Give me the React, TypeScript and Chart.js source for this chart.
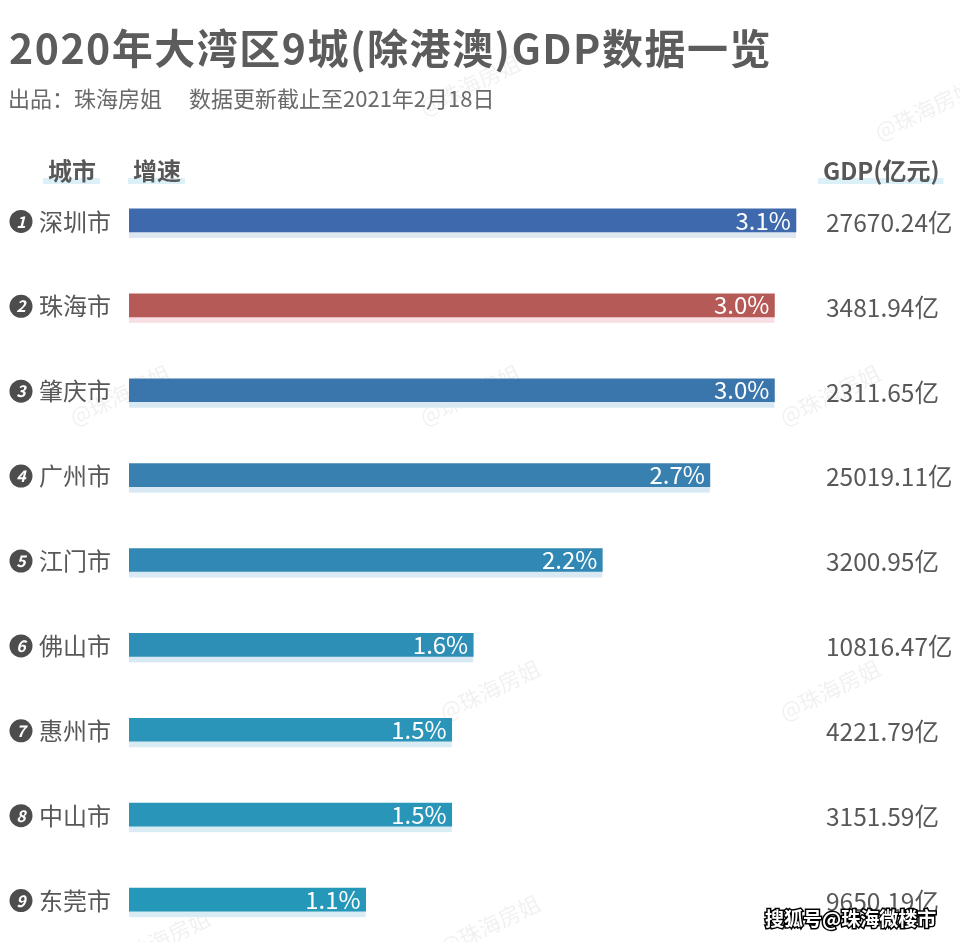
import React, { useEffect, useRef } from "react";
import { Chart, registerables } from "chart.js";

Chart.register(...registerables);

const cities = ["深圳市", "珠海市", "肇庆市", "广州市", "江门市", "佛山市", "惠州市", "中山市", "东莞市"];
const growth = [3.1, 3.0, 3.0, 2.7, 2.2, 1.6, 1.5, 1.5, 1.1];
const gdpValues = ["27670.24", "3481.94", "2311.65", "25019.11", "3200.95", "10816.47", "4221.79", "3151.59", "9650.19"];

const barColors = ["#3e6aad", "#b65a58", "#3a75ab", "#3780b0", "#3288b4", "#2e8fb6", "#2a95b8", "#2996b9", "#2597b9"];
const shadowColors = ["#dde7f1", "#f7dfe4", "#d9e9f3", "#d9e9f3", "#d9e9f3", "#d9e9f3", "#d9ebf3", "#d9ebf3", "#d9ebf3"];

const FONT = '"Noto Sans CJK SC", "Noto Sans", sans-serif';
const GRAY = "#585858";

const faintMarks: [number, number][] = [
  [470, 85], [120, 395], [470, 395], [830, 395], [490, 690], [830, 690], [160, 940], [490, 925], [925, 110],
];

const overlayPlugin = {
  id: "overlay",
  beforeDatasetsDraw(chart: any) {
    const ctx = chart.ctx;
    const meta = chart.getDatasetMeta(0);
    ctx.save();
    // faint watermarks
    ctx.fillStyle = "rgba(0,0,0,0.06)";
    ctx.font = `22px ${FONT}`;
    ctx.textAlign = "center";
    ctx.textBaseline = "middle";
    faintMarks.forEach(([x, y]) => {
      ctx.save();
      ctx.translate(x, y);
      ctx.rotate(-0.45);
      ctx.fillText("@珠海房姐", 0, 0);
      ctx.restore();
    });
    meta.data.forEach((bar: any, i: number) => {
      const h = bar.height;
      ctx.fillStyle = shadowColors[i];
      ctx.fillRect(bar.base, bar.y + h / 2 - 1, bar.x - bar.base, 7);
    });
    ctx.restore();
  },
  afterDatasetsDraw(chart: any) {
    const ctx = chart.ctx;
    const meta = chart.getDatasetMeta(0);
    ctx.save();
    // title
    ctx.fillStyle = "#5c5c5c";
    ctx.textBaseline = "alphabetic";
    ctx.textAlign = "left";
    ctx.font = `bold 41px ${FONT}`;
    (ctx as any).letterSpacing = "1.5px";
    ctx.fillText("2020年大湾区9城(除港澳)GDP数据一览", 9, 64);
    (ctx as any).letterSpacing = "0px";
    ctx.fillStyle = "#6a6a6a";
    ctx.font = `22px ${FONT}`;
    ctx.fillText("出品：珠海房姐", 8, 107);
    ctx.fillText("数据更新截止至2021年2月18日", 189, 107);

    // headers
    const headers: [string, number][] = [["城市", 48], ["增速", 133], ["GDP(亿元)", 823]];
    ctx.font = `bold 24px ${FONT}`;
    headers.forEach(([t, x]) => {
      const w = ctx.measureText(t).width;
      ctx.fillStyle = "#dcf0f8";
      ctx.fillRect(x - 5, 178, w + 9, 6);
      ctx.fillStyle = GRAY;
      ctx.fillText(t, x, 180);
    });

    meta.data.forEach((bar: any, i: number) => {
      const y = bar.y;
      // number badge
      ctx.fillStyle = "#4d4d4d";
      ctx.beginPath();
      ctx.arc(21, y + 1, 11.5, 0, Math.PI * 2);
      ctx.fill();
      ctx.fillStyle = "#ffffff";
      ctx.font = `italic bold 16px ${FONT}`;
      ctx.textAlign = "center";
      ctx.textBaseline = "middle";
      ctx.fillText(String(i + 1), 21, y + 1);
      // city
      ctx.fillStyle = GRAY;
      ctx.font = `24px ${FONT}`;
      ctx.textAlign = "left";
      ctx.fillText(cities[i], 39, y + 1);
      // value label inside bar
      ctx.fillStyle = "#ffffff";
      ctx.textAlign = "right";
      ctx.fillText(growth[i].toFixed(1) + "%", bar.x - 5, y);
      // GDP
      ctx.fillStyle = GRAY;
      ctx.textAlign = "left";
      ctx.font = `24.5px ${FONT}`;
      ctx.fillText(gdpValues[i] + "亿", 826, y + 2);
    });

    // watermark
    ctx.font = `bold 19px ${FONT}`;
    ctx.textAlign = "left";
    ctx.textBaseline = "middle";
    ctx.lineWidth = 3;
    ctx.strokeStyle = "#000000";
    ctx.strokeText("搜狐号@珠海微楼市", 765, 919);
    ctx.fillStyle = "#ffffff";
    ctx.fillText("搜狐号@珠海微楼市", 765, 919);
    ctx.restore();
  },
};

export default function App() {
  const ref = useRef<HTMLCanvasElement>(null);
  useEffect(() => {
    if (!ref.current) return;
    const chart = new Chart(ref.current, {
      type: "bar",
      data: {
        labels: cities,
        datasets: [
          {
            data: growth,
            backgroundColor: barColors,
            barThickness: 23,
            borderWidth: 0,
          },
        ],
      },
      options: {
        indexAxis: "y",
        animation: false,
        responsive: false,
        layout: { padding: { left: 129, right: 78, top: 178, bottom: 0 } },
        scales: {
          x: { type: "linear", min: 0, max: 3.5, display: false },
          y: { display: false },
        },
        plugins: { legend: { display: false }, tooltip: { enabled: false }, title: { display: false } },
      },
      plugins: [overlayPlugin],
    });
    return () => chart.destroy();
  }, []);
  return (
    <div style={{ position: "fixed", left: 0, top: 0, width: 960, height: 942, background: "#ffffff" }}>
      <canvas ref={ref} width={960} height={942} style={{ width: 960, height: 942 }} />
    </div>
  );
}
